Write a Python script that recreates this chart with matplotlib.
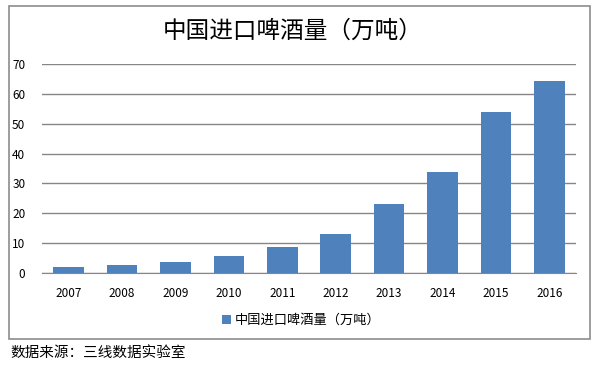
import matplotlib.pyplot as plt
from matplotlib.patches import Rectangle

plt.rcParams['font.family'] = ['Noto Sans CJK SC', 'DejaVu Sans']

# Data
years = ['2007', '2008', '2009', '2010', '2011', '2012', '2013', '2014', '2015', '2016']
imports = [1.9, 2.8, 3.8, 5.8, 8.8, 13.1, 23.1, 33.8, 53.8, 64.4]
series_name = '中国进口啤酒量（万吨）'
title = '中国进口啤酒量（万吨）'
source = '数据来源：三线数据实验室'

bar_color = '#4f81bd'
grid_color = '#868686'

fig = plt.figure(figsize=(5.93, 3.68), dpi=100)

# outer frame
fig.patches.append(Rectangle((9 / 593, 1 - 339 / 368), 581 / 593, 333 / 368,
                             transform=fig.transFigure, fill=False,
                             edgecolor='#8c8c8c', linewidth=1.2))

ax = fig.add_axes([42 / 593, 1 - 273 / 368, 534 / 593, 209 / 368])
x = range(len(years))
ax.bar(x, imports, width=0.57, color=bar_color, label=series_name, zorder=3)

ax.set_xlim(-0.5, len(years) - 0.5)
ax.set_ylim(0, 70)
ax.set_yticks(range(0, 71, 10))
ax.set_xticks(list(x))
ax.set_xticklabels(years)
ax.tick_params(axis='both', length=0, labelsize=8.5)
ax.tick_params(axis='x', pad=10)
ax.tick_params(axis='y', pad=12)
ax.grid(axis='y', color=grid_color, linewidth=1, zorder=0)
for s in ['top', 'right', 'left']:
    ax.spines[s].set_visible(False)
ax.spines['bottom'].set_color(grid_color)

fig.text(0.494, 1 - 31 / 368, title, ha='center', va='center',
         fontsize=17, fontweight='medium')

ax.legend(loc='upper center', bbox_to_anchor=(0.485, -0.14), frameon=False,
          fontsize=9.5, handlelength=0.7, handleheight=0.7, handletextpad=0.3)

fig.text(10 / 593, 1 - 353 / 368, source, ha='left', va='center',
         fontsize=10.5, style='italic')

plt.savefig('out.png', dpi=100)
